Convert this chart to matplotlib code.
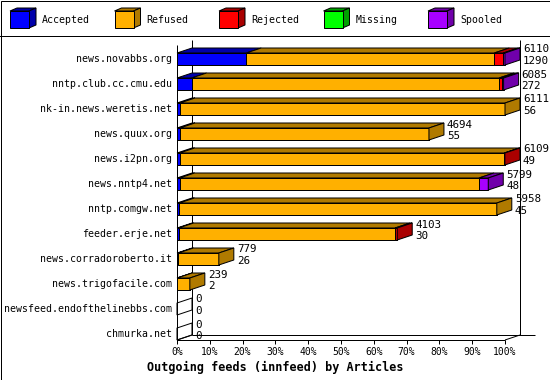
import numpy as np
import matplotlib
matplotlib.use("Agg")
import matplotlib.pyplot as plt
from matplotlib.patches import Polygon, Rectangle

# data (articles)
hosts = ["news.novabbs.org", "nntp.club.cc.cmu.edu", "nk-in.news.weretis.net",
         "news.quux.org", "news.i2pn.org", "news.nntp4.net", "nntp.comgw.net",
         "feeder.erje.net", "news.corradoroberto.it", "news.trigofacile.com",
         "newsfeed.endofthelinebbs.com", "chmurka.net"]
offered  = [6110, 6085, 6111, 4694, 6109, 5799, 5958, 4103, 779, 239, 0, 0]
accepted = [1290, 272, 56, 55, 49, 48, 45, 30, 26, 2, 0, 0]
refused  = [4621, 5728, 6055, 4639, 6050, 5578, 5913, 4033, 753, 237, 0, 0]
rejected = [169, 61, 0, 0, 10, 0, 0, 40, 0, 0, 0, 0]
missing  = [0, 0, 0, 0, 0, 0, 0, 0, 0, 0, 0, 0]
spooled  = [30, 24, 0, 0, 0, 173, 0, 0, 0, 0, 0, 0]

names = ["Accepted", "Refused", "Rejected", "Missing", "Spooled"]
cols = ["#0000ff", "#ffb000", "#ff0000", "#00ff00", "#a800ff"]
dark = ["#0000aa", "#b07a00", "#aa0000", "#00a000", "#7000aa"]
xticks = list(range(0, 101, 10))
title = "Outgoing feeds (innfeed) by Articles"

W, H = 550, 380
X0, PPP = 177, 3.28          # pixel of 0%, pixels per %
R0, RS = 59, 25              # pixel of first row centre, row step
FH, DX, DY = 12, 15, 5       # face height, depth x/y in pixels
font = "DejaVu Sans Mono"
lw = 0.72

def ry(py):
    return (py - R0) / RS

dp = DX / PPP
dr = DY / RS
hh = FH / RS / 2

fig = plt.figure(figsize=(W / 100, H / 100), dpi=100)
ax = fig.add_axes([0, 0, 1, 1])
ax.set_xlim(-X0 / PPP, (W - X0) / PPP)
ax.set_ylim(ry(H), ry(0))
ax.axis("off")

# frame of the plot
k = dict(color="black", lw=lw, solid_capstyle="butt")
ax.plot([0, 0], [ry(45), ry(340)], **k)
ax.plot([dp, dp], [ry(40), ry(335)], **k)
ax.plot([100 + dp, 100 + dp], [ry(40), ry(335)], **k)
ax.plot([dp, (535 - X0) / PPP], [ry(335), ry(335)], **k)
ax.plot([0, 100], [ry(340), ry(340)], **k)
ax.plot([0, dp], [ry(340), ry(335)], **k)
ax.plot([100, 100 + dp], [ry(340), ry(335)], **k)
for t in xticks:
    ax.plot([t, t], [ry(340), ry(344)], **k)
    ax.text(t, ry(352), f"{t}%", ha="center", va="center", family=font, fontsize=7)
ax.text((W / 2 - X0) / PPP, ry(367), title, ha="center", va="center",
        family=font, fontsize=8.5, fontweight="bold")

scale = max(offered)
series = [accepted, refused, rejected, missing, spooled]
rows = np.arange(len(hosts))
pct = [np.array(s) / scale * 100 for s in series]
left = np.zeros(len(hosts))
for j in range(5):
    ax.barh(rows, pct[j], left=left, height=2 * hh, color=cols[j],
            edgecolor="black", lw=lw, zorder=2)
    for i in rows:
        if pct[j][i] <= 0:
            continue
        a, b = left[i], left[i] + pct[j][i]
        top = i - hh
        ax.add_patch(Polygon([(a, top), (b, top), (b + dp, top - dr), (a + dp, top - dr)],
                             closed=True, fc=dark[j], ec="black", lw=lw, zorder=2))
    left = left + pct[j]

for i in rows:
    last = [j for j in range(5) if pct[j][i] > 0]
    e = left[i]
    side = [(e, i - hh), (e + dp, i - hh - dr), (e + dp, i + hh - dr), (e, i + hh)]
    if last:
        ax.add_patch(Polygon(side, closed=True, fc=dark[last[-1]], ec="black", lw=lw, zorder=3))
    else:
        ax.add_patch(Polygon(side, closed=True, fill=False, ec="black", lw=lw, zorder=3))
    tx = e + dp + 3 / PPP
    ax.text(tx, i - 9.5 / RS, str(offered[i]), ha="left", va="center", family=font, fontsize=7.8)
    ax.text(tx, i + 2 / RS, str(accepted[i]), ha="left", va="center", family=font, fontsize=7.8)
    ax.text(-5 / PPP, i, hosts[i], ha="right", va="center", family=font, fontsize=7.1)

# legend band
lg = fig.add_axes([0, 0, 1, 1])
lg.set_xlim(0, W)
lg.set_ylim(H, 0)
lg.axis("off")
for j, nm in enumerate(names):
    x = 10 + 104.5 * j
    lg.add_patch(Polygon([(x, 11), (x + 19, 11), (x + 26, 8), (x + 7, 8)],
                         closed=True, fc=dark[j], ec="black", lw=lw))
    lg.add_patch(Polygon([(x + 19, 11), (x + 26, 8), (x + 26, 25), (x + 19, 28)],
                         closed=True, fc=dark[j], ec="black", lw=lw))
    lg.add_patch(Rectangle((x, 11), 19, 17, fc=cols[j], ec="black", lw=lw))
    lg.text(x + 32, 20, nm, ha="left", va="center", family=font, fontsize=7.1)
lg.plot([0, W], [35.5, 35.5], color="black", lw=lw)
lg.add_patch(Rectangle((0.5, 0.5), W - 1, H - 1, fill=False, ec="black", lw=lw))

fig.savefig("out.png", dpi=100)
